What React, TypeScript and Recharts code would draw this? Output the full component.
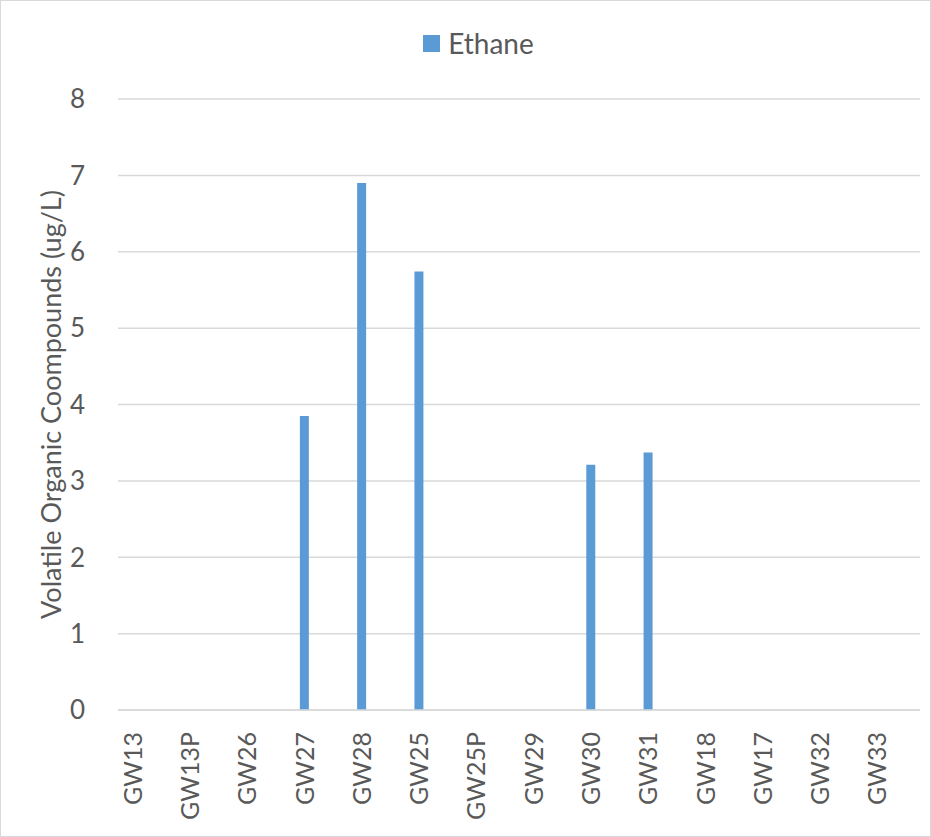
import React from 'react';
import { BarChart, Bar, XAxis, YAxis, CartesianGrid } from 'recharts';

const wells = ['GW13', 'GW13P', 'GW26', 'GW27', 'GW28', 'GW25', 'GW25P', 'GW29', 'GW30', 'GW31', 'GW18', 'GW17', 'GW32', 'GW33'];
const ethane = [0, 0, 0, 3.85, 6.9, 5.74, 0, 0, 3.21, 3.37, 0, 0, 0, 0];
const yTicks = [0, 1, 2, 3, 4, 5, 6, 7, 8];

const chartData = wells.map((name, i) => ({ name, Ethane: ethane[i] }));

const FONT = 'Lato, "Open Sans", sans-serif';
const TEXT = '#595959';
const GRID = '#d9d9d9';
const BLUE = '#5b9bd5';

const XTick = (props: any) => {
    const { x, y, payload } = props;
    const ty = y + 14;
    return (
        <text
            x={x}
            y={ty}
            transform={`rotate(-90, ${x}, ${ty})`}
            textAnchor="end"
            dy="0.36em"
            fill={TEXT}
            fontSize={25}
            fontFamily={FONT}
        >
            {payload.value}
        </text>
    );
};

const YTick = (props: any) => {
    const { x, y, payload } = props;
    return (
        <text x={x - 25} y={y} dy="0.36em" textAnchor="end" fill={TEXT} fontSize={26} fontFamily={FONT}>
            {payload.value}
        </text>
    );
};

const App: React.FC = () => (
    <div style={{ position: 'absolute', left: 0, top: 0, width: 931, height: 837, boxSizing: 'border-box', border: '1px solid #d9d9d9', background: '#fff' }}>
        {/* legend sits above the plot, outside recharts' layout so it does not push the grid down */}
        <div
            style={{
                position: 'absolute',
                top: 25,
                left: 26,
                width: 903,
                display: 'flex',
                justifyContent: 'center',
                alignItems: 'center',
                fontFamily: FONT,
                fontSize: 28,
                color: TEXT,
                lineHeight: '34px',
            }}
        >
            <span style={{ width: 17, height: 17, background: BLUE, display: 'inline-block', marginRight: 8 }} />
            <span>Ethane</span>
        </div>
        <BarChart
            width={929}
            height={835}
            data={chartData}
            margin={{ top: 98, right: 10, left: 0, bottom: 0 }}
            barCategoryGap="0%"
        >
            <CartesianGrid vertical={false} stroke={GRID} strokeWidth={1.5} />
            <XAxis
                dataKey="name"
                interval={0}
                height={126}
                tickLine={false}
                axisLine={{ stroke: GRID, strokeWidth: 1.5 }}
                tick={<XTick />}
                padding={{ left: -14, right: 14 }}
            />
            <YAxis
                width={117}
                domain={[0, 8]}
                ticks={yTicks}
                interval={0}
                tickLine={false}
                axisLine={false}
                tick={<YTick />}
                label={{
                    value: 'Volatile Organic Coompounds (ug/L)',
                    angle: -90,
                    position: 'center',
                    dx: -8,
                    fill: TEXT,
                    fontSize: 27,
                    fontFamily: FONT,
                }}
            />
            <Bar dataKey="Ethane" fill={BLUE} barSize={9} isAnimationActive={false} />
        </BarChart>
    </div>
);

export default App;
